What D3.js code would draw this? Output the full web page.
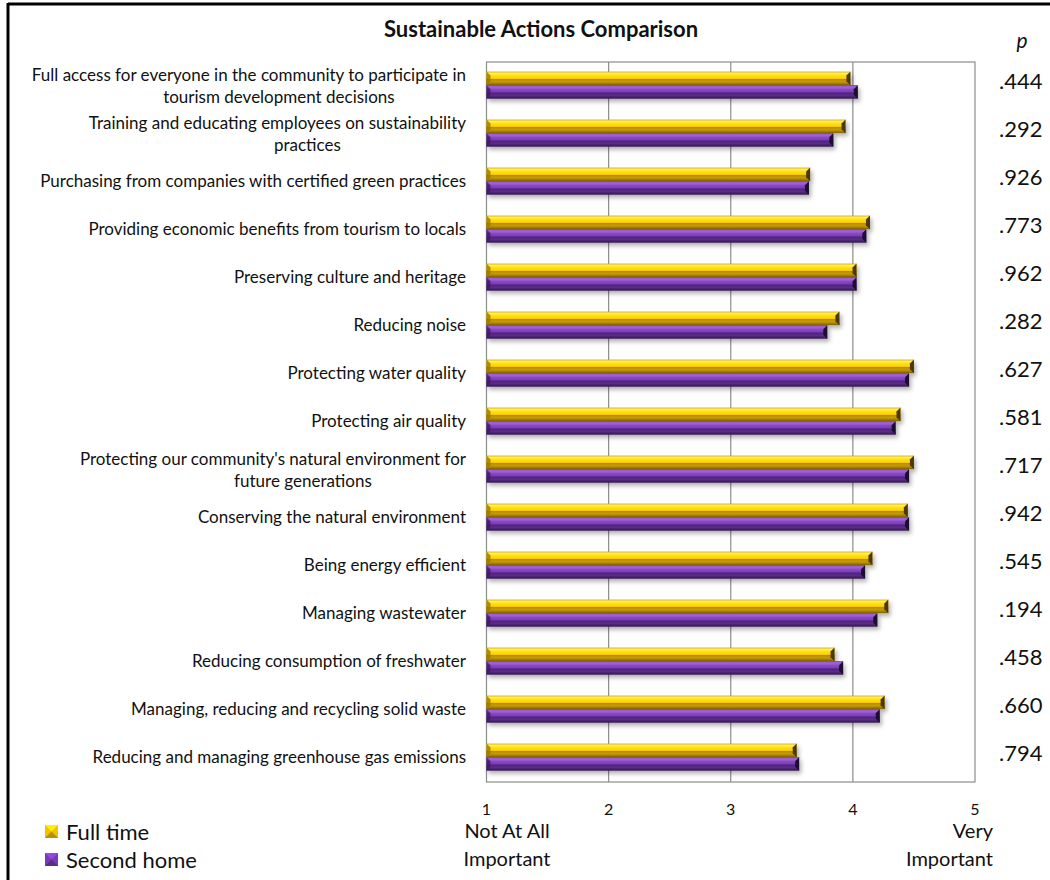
<!DOCTYPE html>
<html>
<head>
<meta charset="utf-8">
<script src="https://cdn.jsdelivr.net/npm/d3@7"></script>
<style>
  html, body { margin: 0; padding: 0; background: #fff; }
  svg { display: block; }
</style>
</head>
<body>
<svg id="chart" width="1050" height="880"></svg>
<script>
// ---------------- DATA ----------------
const categories = [
  ["Full access for everyone in the community to participate in", "tourism development decisions"],
  ["Training and educating employees on sustainability", "practices"],
  ["Purchasing from companies with certified green practices"],
  ["Providing economic benefits from tourism to locals"],
  ["Preserving culture and heritage"],
  ["Reducing noise"],
  ["Protecting water quality"],
  ["Protecting air quality"],
  ["Protecting our community's natural environment for", "future generations"],
  ["Conserving the natural environment"],
  ["Being energy efficient"],
  ["Managing wastewater"],
  ["Reducing consumption of freshwater"],
  ["Managing, reducing and recycling solid waste"],
  ["Reducing and managing greenhouse gas emissions"]
];
const seriesNames = ["Full time", "Second home"];
const fullTime   = [3.98, 3.94, 3.65, 4.14, 4.03, 3.89, 4.50, 4.39, 4.50, 4.45, 4.16, 4.29, 3.85, 4.26, 3.54];
const secondHome = [4.04, 3.84, 3.64, 4.11, 4.03, 3.79, 4.46, 4.35, 4.46, 4.46, 4.10, 4.20, 3.92, 4.22, 3.56];
const pValues = [".444", ".292", ".926", ".773", ".962", ".282", ".627", ".581", ".717", ".942", ".545", ".194", ".458", ".660", ".794"];
const xTicks = [1, 2, 3, 4, 5];
const title = "Sustainable Actions Comparison";
const lowLabel = ["Not At All", "Important"];
const highLabel = ["Very", "Important"];

// ---------------- LAYOUT ----------------
const svg = d3.select("#chart");
const FONT = "Lato, 'Open Sans', sans-serif";
const plot = { left: 486.5, right: 975, top: 62, bottom: 782 };

const x = d3.scaleLinear().domain([1, 5]).range([plot.left, plot.right]);
const ids = categories.map((c, i) => i);
const y = d3.scaleBand().domain(ids).range([plot.top, plot.bottom]).padding(0);
const ySub = d3.scaleBand().domain(seriesNames)
  .range([y.bandwidth() * 0.2, y.bandwidth() * 0.765]).padding(0);

// defs: gradients + shadow
const defs = svg.append("defs");
const palettes = {
  "Full time": {
    stops: [[0, "#e0a800"], [0.12, "#fff07a"], [0.3, "#ffe000"], [0.5, "#ffd200"], [0.58, "#b58a00"], [0.75, "#c99c05"], [1, "#7d5e00"]],
    end: "#4a3800", start: "#9c7700", legend: "#f2c200"
  },
  "Second home": {
    stops: [[0, "#6a2fa0"], [0.12, "#a56ad8"], [0.3, "#8d4cc8"], [0.5, "#7a3ab6"], [0.58, "#4e2378"], [0.75, "#5c2c8a"], [1, "#351650"]],
    end: "#1f0d33", start: "#3e1c60", legend: "#7a3ab6"
  }
};
seriesNames.forEach((s, k) => {
  const g = defs.append("linearGradient").attr("id", "grad" + k)
    .attr("x1", 0).attr("y1", 0).attr("x2", 0).attr("y2", 1);
  palettes[s].stops.forEach(([o, c]) => g.append("stop").attr("offset", o).attr("stop-color", c));
});
const f = defs.append("filter").attr("id", "shadow")
  .attr("x", "-5%").attr("y", "-50%").attr("width", "110%").attr("height", "250%");
f.append("feDropShadow").attr("dx", 2).attr("dy", 3).attr("stdDeviation", 2)
  .attr("flood-color", "#000").attr("flood-opacity", 0.3);

// frame lines
svg.append("line").attr("x1", 8).attr("x2", 1050).attr("y1", 4).attr("y2", 4)
  .attr("stroke", "#000").attr("stroke-width", 3);
svg.append("line").attr("x1", 8).attr("x2", 8).attr("y1", 3).attr("y2", 880)
  .attr("stroke", "#000").attr("stroke-width", 3);

// title
svg.append("text").attr("x", 541).attr("y", 37).attr("text-anchor", "middle")
  .attr("font-family", FONT).attr("font-weight", "bold").attr("font-size", 22)
  .attr("fill", "#111").text(title);
svg.append("text").attr("x", 1022).attr("y", 48).attr("text-anchor", "middle")
  .attr("font-family", FONT).attr("font-style", "italic").attr("font-size", 21)
  .attr("fill", "#111").text("p");

// plot box + gridlines
svg.append("rect").attr("x", plot.left).attr("y", plot.top)
  .attr("width", plot.right - plot.left).attr("height", plot.bottom - plot.top)
  .attr("fill", "#fff").attr("stroke", "#8c8c8c").attr("stroke-width", 1.2);
svg.append("g").selectAll("line").data(xTicks.slice(1, -1)).join("line")
  .attr("x1", d => x(d)).attr("x2", d => x(d))
  .attr("y1", plot.top).attr("y2", plot.bottom)
  .attr("stroke", "#8c8c8c").attr("stroke-width", 1.2);

// bars
const series = [fullTime, secondHome];
const barsG = svg.append("g");
seriesNames.forEach((s, k) => {
  const pal = palettes[s];
  const g = barsG.append("g");
  series[k].forEach((v, i) => {
    const y0 = y(i) + ySub(s);
    const h = ySub.bandwidth();
    const x0 = x(1), x1 = x(v);
    const b = 4;
    const bg = g.append("g").attr("filter", "url(#shadow)");
    bg.append("rect").attr("x", x0).attr("y", y0).attr("width", x1 - x0).attr("height", h)
      .attr("fill", `url(#grad${k})`);
    bg.append("polygon")
      .attr("points", [[x1 - b, y0 + b], [x1, y0], [x1, y0 + h], [x1 - b, y0 + h - b]].join(" "))
      .attr("fill", pal.end);
    bg.append("polygon")
      .attr("points", [[x0, y0], [x0 + b, y0 + b], [x0 + b, y0 + h - b], [x0, y0 + h]].join(" "))
      .attr("fill", pal.start).attr("opacity", 0.8);
  });
});

// category labels
const labG = svg.append("g").attr("font-family", FONT).attr("font-size", 17).attr("fill", "#111");
categories.forEach((lines, i) => {
  const cy = y(i) + y.bandwidth() / 2;
  if (lines.length === 1) {
    labG.append("text").attr("x", 466).attr("y", cy - 1).attr("dy", "0.35em")
      .attr("text-anchor", "end").text(lines[0]);
  } else {
    const t1 = labG.append("text").attr("x", 466).attr("y", cy - 11).attr("dy", "0.35em")
      .attr("text-anchor", "end").text(lines[0]);
    const w1 = t1.node().getComputedTextLength();
    labG.append("text").attr("x", 466 - w1 / 2 + 30).attr("y", cy + 11).attr("dy", "0.35em")
      .attr("text-anchor", "middle").text(lines[1]);
  }
});

// p values
svg.append("g").attr("font-family", FONT).attr("font-size", 22).attr("fill", "#111")
  .selectAll("text").data(pValues).join("text")
  .attr("x", 999).attr("y", (d, i) => y(i) + y.bandwidth() / 2 - 5).attr("dy", "0.35em")
  .text(d => d);

// x axis tick labels
svg.append("g").attr("font-family", FONT).attr("font-size", 16).attr("fill", "#111")
  .selectAll("text").data(xTicks).join("text")
  .attr("x", d => x(d)).attr("y", 815).attr("text-anchor", "middle").text(d => d);

svg.append("g").attr("font-family", FONT).attr("font-size", 20).attr("fill", "#111")
  .selectAll("text").data(lowLabel).join("text")
  .attr("x", 507).attr("y", (d, i) => 838 + i * 28).attr("text-anchor", "middle").text(d => d);
svg.append("g").attr("font-family", FONT).attr("font-size", 20).attr("fill", "#111")
  .selectAll("text").data(highLabel).join("text")
  .attr("x", 993).attr("y", (d, i) => 838 + i * 28).attr("text-anchor", "end").text(d => d);

// legend
const leg = svg.append("g").attr("font-family", FONT).attr("font-size", 22).attr("fill", "#111");
seriesNames.forEach((s, k) => {
  const ly = 825 + k * 28;
  const pal = palettes[s];
  const sq = 13;
  leg.append("rect").attr("x", 45).attr("y", ly).attr("width", sq).attr("height", sq)
    .attr("fill", pal.legend);
  leg.append("polygon").attr("points", [[45, ly], [45 + sq, ly], [45 + sq / 2, ly + sq / 2]].join(" "))
    .attr("fill", d3.color(pal.legend).brighter(0.6));
  leg.append("polygon").attr("points", [[45, ly + sq], [45 + sq, ly + sq], [45 + sq / 2, ly + sq / 2]].join(" "))
    .attr("fill", d3.color(pal.legend).darker(0.8));
  leg.append("text").attr("x", 66).attr("y", ly + 7).attr("dy", "0.35em").text(s);
});
</script>
</body>
</html>
